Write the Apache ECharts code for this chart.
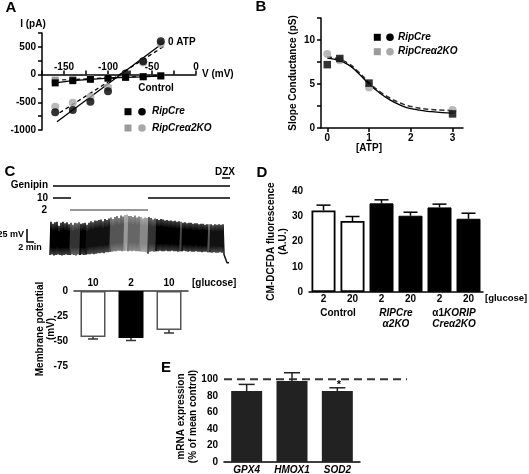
<!DOCTYPE html>
<html><head><meta charset="utf-8">
<script src="https://cdn.jsdelivr.net/npm/echarts@6/dist/echarts.min.js"></script>
<style>html,body{margin:0;padding:0;background:#fff}#c{width:529px;height:474px}</style>
</head><body><div id="c"></div><script>
// ---------- Panel A : I-V ----------
const aVolt = [-160,-140,-120,-100,-80,-60,-40];
const aCtrlRip = [-150,-110,-85,-65,-50,-40,-25];
const aCtrlKO = [-100,-90,-75,-60,-45,-35,-20];
const aAtpRip = [-680,-640,-490,-300,20,240,600];
const aAtpKO = [-580,-510,-400,-230,-30,220,550];
const aFitRipV = [-158,-37];
const aFitRipI = [-850,575];
const aFitKOV = [-155,-37];
const aFitKOI = [-690,505];
// ---------- Panel B : slope conductance ----------
const bAtp = [0,0.3,1,3];
const bRip = [7.2,7.9,5.1,1.6];
const bKO = [8.4,7.7,4.6,2.05];
const bCurveX = [0,0.25,0.5,0.75,1,1.25,1.5,1.75,2,2.5,3];
const bCurveRip = [7.95,7.7,7.2,6.2,5.0,4.0,3.2,2.6,2.2,1.85,1.7];
const bCurveKO = [8.1,7.85,7.35,6.35,5.15,4.15,3.4,2.85,2.45,2.1,2.0];
const bXTicks = [0,1,2,3];
// ---------- Panel C : trace + membrane potential ----------
const cTracePeak = [
 -10,-14,-11,-10,-18,-12,-10,-13,-11,-15,
 -12,-16,-12,-13,-11,-14,-13,-12,-16,-12,
 -9,-11,-7,-8,-6,-5,-9,-4,-6,-3,
 -1,-4,0,2,-2,3,1,4,5,2,
 2,0,3,-1,1,0,-3,-1,-2,0,
 -2,-5,-3,-4,-6,-4,-5,-7,-6,-8,
 -7,-9,-8,-10,-9,-10,-12,-11,-13,-12,
 -12,-14,-13,-13,-15,-14,-14,-16,-15,-15,
 -15,-17,-15,-16,-15,-16,-15];
const cTraceTrough = [
 -79,-78,-80,-79,-78,-79,-80,-79,-78,-79,
 -79,-78,-79,-80,-78,-79,-78,-79,-78,-77,
 -77,-76,-77,-76,-75,-75,-74,-75,-73,-73,
 -72,-72,-71,-71,-70,-70,-71,-70,-70,-71,
 -70,-71,-70,-71,-71,-71,-72,-72,-73,-76,
 -72,-71,-72,-71,-71,-70,-71,-71,-70,-71,
 -71,-70,-71,-71,-72,-71,-71,-70,-71,-72,
 -71,-72,-72,-71,-72,-72,-73,-72,-72,-73,
 -73,-74,-73,-74,-74,-73,-74];
const cTraceTailT = [87,88.5,89.5];
const cTraceTailV = [-78,-95,-95];
const cShadeStart = [0,10,15,18,30,37,39,45,49,53,65,66,79,80];
const cShadeColor = ['#000','#333','#000','#111','#555','#999','#666','#888','#333','#000','#444','#000','#555','#111'];
const cGlucose = ['10','2','10'];
const cMembrane = [-46,-47,-39];
const cMembraneErr = [2,2.5,3];
// ---------- Panel D : CM-DCFDA ----------
const dGlucose = ['2','20','2','20','2','20'];
const dGroups = ['Control','RIPCre\nα2KO','α1KORIP\nCreα2KO'];
const dFluor = [32.3,28.1,35.1,30.2,33.5,29.0];
const dFluorErr = [2.1,1.8,1.4,1.4,1.3,2.2];
// ---------- Panel E : mRNA ----------
const eGenes = ['GPX4','HMOX1','SOD2'];
const eExpr = [85.7,97.8,85.7];
const eExprErr = [8.1,10.1,4.0];
const eRefLevel = 100;

const FF = '"Liberation Sans", Arial, Helvetica, sans-serif';
const zip = (a,b) => a.map((v,i)=>[v,b[i]]);
const lbl = {color:'#000', fontFamily:FF, fontWeight:'bold', fontSize:10};
const axLine = {lineStyle:{color:'#000', width:1.5}};
const axTick = {length:4, lineStyle:{color:'#000', width:1.5}};

function errRender(dir, capHalf, color){
  return function(params, api){
    const x = api.value(0), v = api.value(1), e = api.value(2);
    const p0 = api.coord([x, v]), p1 = api.coord([x, v + dir*e]);
    const st = {stroke: color, lineWidth: 1.5};
    return {type:'group', children:[
      {type:'line', shape:{x1:p0[0], y1:p0[1], x2:p1[0], y2:p1[1]}, style:st},
      {type:'line', shape:{x1:p1[0]-capHalf, y1:p1[1], x2:p1[0]+capHalf, y2:p1[1]}, style:st}
    ]};
  };
}

// trace series by shade runs
const traceSeries = [];
for (let r = 0; r < cShadeStart.length; r++) {
  const s = cShadeStart[r];
  const e = r+1 < cShadeStart.length ? cShadeStart[r+1] : cTracePeak.length;
  const data = [];
  for (let i = s; i < e; i++) { data.push([i, cTraceTrough[i]]); data.push([i+0.5, cTracePeak[i]]); }
  if (e < cTracePeak.length) data.push([e, cTraceTrough[e]]);
  else cTraceTailT.forEach((t,k)=>data.push([t, cTraceTailV[k]]));
  traceSeries.push({type:'line', xAxisIndex:2, yAxisIndex:2, data, symbol:'none', silent:true,
    lineStyle:{color:cShadeColor[r], width:1.5}});
}

function txt(text, x, y, align, opt){
  opt = opt || {};
  return {type:'text', silent:true, style:{text, x, y, fill:opt.fill||'#000',
    font:(opt.italic?'italic ':'')+'bold '+(opt.size||10)+'px '+FF,
    textAlign:align, align:align, textVerticalAlign:'middle', verticalAlign:'middle'}};
}
function vtxt(text, x, y){
  return {type:'text', silent:true, x, y, rotation:Math.PI/2, style:{text, x:0, y:0, fill:'#000',
    font:'bold 10px '+FF, textAlign:'center', align:'center', textVerticalAlign:'middle', verticalAlign:'middle'}};
}
function ln(x1,y1,x2,y2,color){
  return {type:'line', silent:true, shape:{x1,y1,x2,y2}, style:{stroke:color||'#000', lineWidth:1.5}};
}
function sq(cx,cy,color){ return {type:'rect', silent:true, shape:{x:cx-3.5,y:cy-3.5,width:7,height:7}, style:{fill:color}}; }
function ci(cx,cy,color){ return {type:'circle', silent:true, shape:{cx,cy,r:3.8}, style:{fill:color}}; }

const G1 = '#9a9a9a', G2 = '#a8a8a8';
const aTop = 33, aHeight = 97, aYMin = -1000, aYMax = 750;
const aZeroOffset = -(aYMax / (aYMax - aYMin)) * aHeight;

const nameStyle = Object.assign({lineHeight:12}, lbl);

const option = {
  animation:false,
  backgroundColor:'#fff',
  grid:[
    {left:42, top:aTop, width:154, height:aHeight, outerBoundsMode:'none'},
    {left:321, top:18, width:142, height:110, outerBoundsMode:'none'},
    {left:50, top:205, width:180, height:65, outerBoundsMode:'none'},
    {left:74, top:291, width:114, height:75, outerBoundsMode:'none'},
    {left:309, top:191, width:174, height:101, outerBoundsMode:'none'},
    {left:224, top:371, width:136, height:91, outerBoundsMode:'none'},
    {left:224, top:371, width:183, height:91, outerBoundsMode:'none'}
  ],
  xAxis:[
    {type:'value', gridIndex:0, min:-175, max:0, interval:25, position:'top', offset:aZeroOffset,
      axisLine:Object.assign({onZero:false}, axLine), axisTick:axTick, splitLine:{show:false},
      axisLabel:Object.assign({margin:2, formatter:v => (v % 50 === 0 ? String(v) : '')}, lbl),
      name:'V (mV)', nameLocation:'end', nameGap:6, nameTextStyle:lbl, nameMoveOverlap:false},
    {type:'value', gridIndex:1, min:-0.15, max:3.25,
      axisLine:Object.assign({onZero:false}, axLine), axisTick:Object.assign({customValues:bXTicks}, axTick), splitLine:{show:false},
      axisLabel:Object.assign({customValues:bXTicks, margin:5}, lbl)},
    {type:'value', gridIndex:2, min:0, max:90, show:false},
    {type:'category', gridIndex:3, data:cGlucose, position:'top',
      axisLine:{onZero:false, lineStyle:{color:'#333', width:1.5}}, axisTick:{show:false},
      axisLabel:Object.assign({margin:3, interval:0}, lbl)},
    {type:'category', gridIndex:4, data:dGlucose, position:'bottom',
      axisLine:Object.assign({onZero:false}, axLine), axisTick:{show:false},
      axisLabel:Object.assign({margin:2, interval:0}, lbl)},
    {type:'category', gridIndex:4, data:dGroups, position:'bottom', offset:14,
      axisLine:{show:false}, axisTick:{show:false},
      axisLabel:{margin:2, interval:0,
        formatter:function(v, idx){
          if (idx === 0) return '{n|' + v + '}';
          return v.split('\n').map(l => l.indexOf('α1') === 0 ? '{n|α1}{i|' + l.slice(2) + '}' : '{i|' + l + '}').join('\n');
        },
        rich:{n:{fontFamily:FF, fontWeight:'bold', fontSize:10, lineHeight:11, color:'#000'},
              i:{fontFamily:FF, fontWeight:'bold', fontStyle:'italic', fontSize:10, lineHeight:11, color:'#000'}}}},
    {type:'category', gridIndex:5, data:eGenes,
      axisLine:Object.assign({onZero:false}, axLine), axisTick:{show:false},
      axisLabel:Object.assign({margin:3, interval:0, fontStyle:'italic'}, lbl)},
    {type:'value', gridIndex:6, min:0, max:1, show:false}
  ],
  yAxis:[
    {type:'value', gridIndex:0, min:aYMin, max:aYMax, interval:250,
      axisLine:Object.assign({onZero:false}, axLine), axisTick:axTick, splitLine:{show:false},
      axisLabel:Object.assign({margin:6, formatter:v => (v % 500 === 0 ? String(v) : '')}, lbl)},
    {type:'value', gridIndex:1, min:0, max:12.5, interval:2.5,
      axisLine:Object.assign({onZero:false}, axLine), axisTick:axTick, splitLine:{show:false},
      axisLabel:Object.assign({margin:6, formatter:v => (v % 5 === 0 ? String(v) : '')}, lbl),
      name:'Slope Conductance (pS)', nameLocation:'middle', nameGap:22, nameMoveOverlap:false,
      nameTextStyle:nameStyle},
    {type:'value', gridIndex:2, min:-110, max:25, show:false},
    {type:'value', gridIndex:3, min:-75, max:0, interval:25,
      axisLine:Object.assign({onZero:false}, axLine), axisTick:axTick, splitLine:{show:false},
      axisLabel:Object.assign({margin:6, hideOverlap:false, showMinLabel:true, showMaxLabel:true}, lbl)},
    {type:'value', gridIndex:4, min:0, max:40, interval:10,
      axisLine:Object.assign({onZero:false}, axLine), axisTick:axTick, splitLine:{show:false},
      axisLabel:Object.assign({margin:6}, lbl),
      name:'CM-DCFDA fluorescence\n(A.U.)', nameLocation:'middle', nameGap:20, nameMoveOverlap:false,
      nameTextStyle:nameStyle},
    {type:'value', gridIndex:5, min:0, max:110,
      axisLine:Object.assign({onZero:false}, axLine),
      axisTick:Object.assign({customValues:[0,20,40,60,80,100]}, axTick), splitLine:{show:false},
      axisLabel:Object.assign({margin:6, customValues:[0,20,40,60,80,100]}, lbl),
      name:'mRNA expression\n(% of mean control)', nameLocation:'middle', nameGap:25, nameMoveOverlap:false,
      nameTextStyle:nameStyle},
    {type:'value', gridIndex:6, min:0, max:110, show:false}
  ],
  series:[
    // A
    {type:'line', xAxisIndex:0, yAxisIndex:0, data:zip(aFitKOV,aFitKOI), symbol:'none', silent:true, z:1,
      lineStyle:{color:'#000', width:1.3, type:[4,3]}},
    {type:'line', xAxisIndex:0, yAxisIndex:0, data:zip(aFitRipV,aFitRipI), symbol:'none', silent:true, z:1,
      lineStyle:{color:'#000', width:1.3}},
    {type:'line', xAxisIndex:0, yAxisIndex:0, data:zip(aVolt,aCtrlKO), symbol:'rect', symbolSize:7, z:2,
      itemStyle:{color:G1}, lineStyle:{color:'#000', width:1.2, type:[4,3]}},
    {type:'scatter', xAxisIndex:0, yAxisIndex:0, data:zip(aVolt,aAtpKO), symbol:'circle', symbolSize:8, z:2,
      itemStyle:{color:G2}},
    {type:'line', xAxisIndex:0, yAxisIndex:0, data:zip(aVolt,aCtrlRip), symbol:'rect', symbolSize:7, z:3,
      itemStyle:{color:'#000'}, lineStyle:{color:'#000', width:1.2}},
    {type:'scatter', xAxisIndex:0, yAxisIndex:0, data:zip(aVolt,aAtpRip), symbol:'circle', symbolSize:8, z:3,
      itemStyle:{color:'#000'}},
    // B
    {type:'line', xAxisIndex:1, yAxisIndex:1, data:zip(bCurveX,bCurveKO), smooth:true, symbol:'none', silent:true, z:1,
      lineStyle:{color:'#333', width:1.6, type:[5,3]}},
    {type:'line', xAxisIndex:1, yAxisIndex:1, data:zip(bCurveX,bCurveRip), smooth:true, symbol:'none', silent:true, z:1,
      lineStyle:{color:'#000', width:1.3}},
    {type:'scatter', xAxisIndex:1, yAxisIndex:1, data:zip(bAtp,bKO), symbol:'circle', symbolSize:8, z:2,
      itemStyle:{color:G2}},
    {type:'scatter', xAxisIndex:1, yAxisIndex:1, data:zip(bAtp,bRip), symbol:'rect', symbolSize:7.5, z:3,
      itemStyle:{color:'#000'}},
    // C trace
    ...traceSeries,
    // C bars
    {type:'bar', xAxisIndex:3, yAxisIndex:3, barWidth:25,
      data:cMembrane.map((v,i)=>({value:v, itemStyle: i===1 ? {color:'#000', borderColor:'#000', borderWidth:1.5}
        : {color:'#fff', borderColor:'#555', borderWidth:1.5}}))},
    {type:'custom', xAxisIndex:3, yAxisIndex:3, renderItem:errRender(-1,5,'#333'),
      data:cMembrane.map((v,i)=>[i, v, cMembraneErr[i]]), z:3},
    // D bars
    {type:'bar', xAxisIndex:4, yAxisIndex:4, barWidth:24,
      data:dFluor.map((v,i)=>({value:v, itemStyle: i<2 ? {color:'#fff', borderColor:'#000', borderWidth:1.8}
        : {color:'#000', borderColor:'#000', borderWidth:1}}))},
    {type:'custom', xAxisIndex:4, yAxisIndex:4, renderItem:errRender(1,7,'#000'),
      data:dFluor.map((v,i)=>[i, v, dFluorErr[i]]), z:3},
    // E bars
    {type:'bar', xAxisIndex:6, yAxisIndex:5, barWidth:31, itemStyle:{color:'#222'}, data:eExpr},
    {type:'custom', xAxisIndex:6, yAxisIndex:5, renderItem:errRender(1,8,'#222'),
      data:eExpr.map((v,i)=>[i, v, eExprErr[i]]), z:3},
    {type:'line', xAxisIndex:7, yAxisIndex:6, data:[[0,eRefLevel],[1,eRefLevel]], symbol:'none', silent:true, z:4,
      lineStyle:{color:'#333', width:1.8, type:[8,5]}}
  ],
  graphic:[
    txt('A', 11, 8, 'center', {size:15}),
    txt('B', 261, 7, 'center', {size:15}),
    txt('C', 10, 172, 'center', {size:15}),
    txt('D', 262, 173, 'center', {size:15}),
    txt('E', 166, 368, 'center', {size:15}),
    txt('I (pA)', 33, 24, 'center'),
    txt('0 ATP', 168, 42, 'left'),
    txt('Control', 156, 88, 'center'),
    sq(128, 111.7, '#000'), ci(142, 111.7, '#000'), txt('RipCre', 152, 111.7, 'left', {italic:true}),
    sq(128, 128, G1), ci(142, 128, G2), txt('RipCreα2KO', 152, 128, 'left', {italic:true}),
    sq(377.3, 37.3, '#000'), ci(390, 37.3, '#000'), txt('RipCre', 398, 37.3, 'left', {italic:true}),
    sq(377.3, 51.7, G1), ci(390, 51.7, G2), txt('RipCreα2KO', 398, 51.7, 'left', {italic:true}),
    txt('[ATP]', 369, 148, 'center'),
    txt('Genipin', 48, 185.5, 'right'), ln(53, 186, 230, 186),
    txt('10', 48, 198, 'right'), ln(53, 198, 71, 198), ln(148, 198, 230, 198),
    txt('2', 47, 210, 'right'), ln(70, 210, 148, 210, '#777'),
    txt('DZX', 225, 172, 'center'), ln(222, 178, 230, 178),
    txt('25 mV', 24, 235, 'right', {size:9}), ln(27, 229, 27, 242), ln(26.5, 242, 34, 242),
    txt('2 min', 30, 248, 'center', {size:9}),
    txt('[glucose]', 192, 283, 'left'),
    txt('[glucose]', 485, 298, 'left', {size:9.5}),
    txt('*', 339, 385, 'center', {size:11}),
    vtxt('Membrane potential', 40, 329),
    vtxt('(mV)', 51, 329)
  ]
};
const chart = echarts.init(document.getElementById('c'), null, {renderer:'canvas'});
chart.setOption(option);
</script></body></html>
